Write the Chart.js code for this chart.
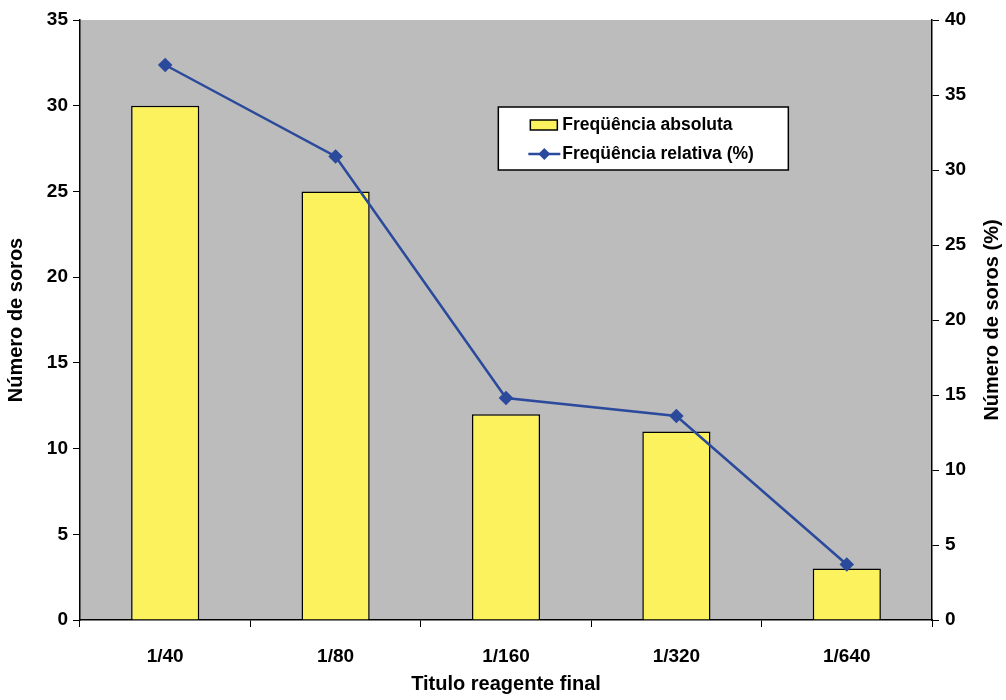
<!DOCTYPE html>
<html>
<head>
<meta charset="utf-8">
<script src="https://cdn.jsdelivr.net/npm/chart.js@4/dist/chart.umd.min.js"></script>
<style>
  html, body { margin: 0; padding: 0; background: #fff; }
  #wrap { width: 1006px; height: 700px; }
</style>
</head>
<body>
<div id="wrap"><canvas id="chart" width="1006" height="700"></canvas></div>
<script>
// data
const categories = ['1/40', '1/80', '1/160', '1/320', '1/640'];
const absoluteCounts = [30, 25, 12, 11, 3];
const relativePercent = [37.0, 30.9, 14.8, 13.6, 3.7];
const leftTicks = [0, 5, 10, 15, 20, 25, 30, 35];
const rightTicks = [0, 5, 10, 15, 20, 25, 30, 35, 40];

const FONT = 'Liberation Sans, Arial, sans-serif';
const BAR_COLOR = '#fbf25e';
const LINE_COLOR = '#2b4a9c';

// gray plot background
const plotBackground = {
    id: 'plotBackground',
    beforeDraw(chart) {
        const { ctx, chartArea: a } = chart;
        ctx.save();
        ctx.fillStyle = '#bcbcbc';
        ctx.fillRect(a.left, a.top, a.right - a.left, a.bottom - a.top);
        ctx.restore();
    }
};

// legend box inside the plot + right axis title (reads bottom to top)
const extras = {
    id: 'extras',
    afterDraw(chart) {
        const { ctx, chartArea: a } = chart;
        const w = a.right - a.left, h = a.bottom - a.top;
        const bx = a.left + w * 0.491, by = a.top + h * 0.145;
        const bw = 290, bh = 63;
        ctx.save();
        ctx.fillStyle = '#fff';
        ctx.fillRect(bx, by, bw, bh);
        ctx.strokeStyle = '#000';
        ctx.lineWidth = 1.5;
        ctx.strokeRect(bx, by, bw, bh);

        const bar = chart.data.datasets.find(d => d.type === 'bar');
        const line = chart.data.datasets.find(d => d.type === 'line');
        ctx.font = 'bold 17.5px ' + FONT;
        ctx.textBaseline = 'middle';
        // bar swatch
        ctx.fillStyle = bar.backgroundColor;
        ctx.fillRect(bx + 32, by + 13, 27, 10);
        ctx.strokeRect(bx + 32, by + 13, 27, 10);
        ctx.fillStyle = '#000';
        ctx.fillText(bar.label, bx + 64, by + 18);
        // line swatch
        const ly = by + 47;
        ctx.strokeStyle = line.borderColor;
        ctx.lineWidth = 2.5;
        ctx.beginPath();
        ctx.moveTo(bx + 30, ly);
        ctx.lineTo(bx + 62, ly);
        ctx.stroke();
        ctx.fillStyle = line.borderColor;
        ctx.beginPath();
        ctx.moveTo(bx + 46, ly - 6);
        ctx.lineTo(bx + 52, ly);
        ctx.lineTo(bx + 46, ly + 6);
        ctx.lineTo(bx + 40, ly);
        ctx.closePath();
        ctx.fill();
        ctx.fillStyle = '#000';
        ctx.fillText(line.label, bx + 64, ly);

        // right axis title
        const ry = chart.scales.yRight;
        ctx.font = 'bold 20px ' + FONT;
        ctx.textAlign = 'center';
        ctx.translate(ry.right - 14, (a.top + a.bottom) / 2);
        ctx.rotate(-Math.PI / 2);
        ctx.fillText('Número de soros (%)', 0, 0);
        ctx.restore();
    }
};

const ctx = document.getElementById('chart').getContext('2d');
new Chart(ctx, {
    data: {
        labels: categories,
        datasets: [
            {
                type: 'bar',
                label: 'Freqüência absoluta',
                data: absoluteCounts,
                yAxisID: 'y',
                backgroundColor: BAR_COLOR,
                borderColor: '#000',
                borderWidth: 1.5,
                categoryPercentage: 1,
                barPercentage: 0.4,
                order: 1
            },
            {
                type: 'line',
                label: 'Freqüência relativa (%)',
                data: relativePercent,
                yAxisID: 'yRight',
                borderColor: LINE_COLOR,
                backgroundColor: LINE_COLOR,
                borderWidth: 2.5,
                pointStyle: 'rectRot',
                pointRadius: 5.5,
                pointHoverRadius: 5.5,
                tension: 0,
                order: 0
            }
        ]
    },
    options: {
        responsive: false,
        animation: false,
        layout: { padding: { top: 20, right: 0, left: 0, bottom: 0 } },
        plugins: {
            legend: { display: false },
            tooltip: { enabled: false }
        },
        scales: {
            x: {
                offset: true,
                grid: { offset: true, drawOnChartArea: false, drawTicks: true, tickLength: 7, color: '#000' },
                border: { color: '#000', width: 1.5 },
                ticks: { color: '#000', font: { family: FONT, size: 19, weight: 'bold' }, padding: 18 },
                title: { display: true, text: 'Titulo reagente final', color: '#000', font: { family: FONT, size: 20, weight: 'bold' }, padding: { top: 10 } },
                afterFit(scale) { scale.height = 80; }
            },
            y: {
                position: 'left',
                min: 0,
                max: 35,
                afterBuildTicks(scale) { scale.ticks = leftTicks.map(v => ({ value: v })); },
                grid: { drawOnChartArea: false, drawTicks: true, tickLength: 7, color: '#000' },
                border: { color: '#000', width: 1.5 },
                ticks: { color: '#000', font: { family: FONT, size: 19, weight: 'bold' }, padding: 5 },
                title: { display: true, text: 'Número de soros', color: '#000', font: { family: FONT, size: 20, weight: 'bold' }, padding: { top: 4, bottom: 2 } },
                afterFit(scale) { scale.width = 80; }
            },
            yRight: {
                position: 'right',
                min: 0,
                max: 40,
                afterBuildTicks(scale) { scale.ticks = rightTicks.map(v => ({ value: v })); },
                grid: { drawOnChartArea: false, drawTicks: true, tickLength: 7, color: '#000' },
                border: { color: '#000', width: 1.5 },
                ticks: { color: '#000', font: { family: FONT, size: 19, weight: 'bold' }, padding: 6 },
                afterFit(scale) { scale.width = 74; }
            }
        }
    },
    plugins: [plotBackground, extras]
});
</script>
</body>
</html>
